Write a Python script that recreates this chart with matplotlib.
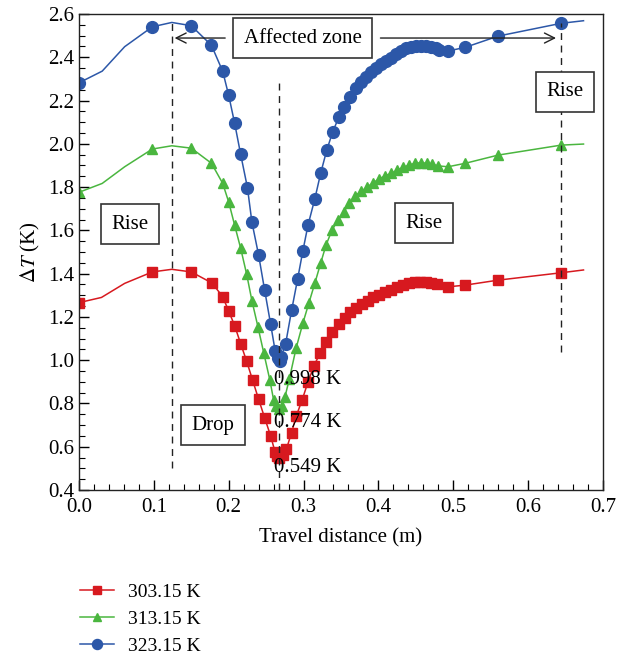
import matplotlib
matplotlib.use('Agg')
import matplotlib.pyplot as plt

plt.rcParams['font.family'] = ['Liberation Serif', 'DejaVu Serif']
plt.rcParams['mathtext.fontset'] = 'stix'

# Data (travel distance in m, delta T in K)
# points at index 1, 2, 4 and the last one carry no marker (curve only)
x_303 = [0.0, 0.030, 0.061, 0.098, 0.124, 0.150, 0.178, 0.192, 0.200, 0.208,
         0.216, 0.224, 0.232, 0.240, 0.248, 0.256, 0.262, 0.264, 0.267, 0.272,
         0.277, 0.284, 0.290, 0.298, 0.306, 0.314, 0.322, 0.330, 0.338, 0.347,
         0.355, 0.362, 0.370, 0.378, 0.386, 0.393, 0.401, 0.409, 0.417, 0.425,
         0.433, 0.441, 0.449, 0.456, 0.463, 0.470, 0.478, 0.493, 0.516, 0.560,
         0.644, 0.674]
y_303 = [1.266, 1.290, 1.355, 1.408, 1.420, 1.408, 1.356, 1.293, 1.227, 1.159,
         1.076, 0.995, 0.907, 0.819, 0.734, 0.650, 0.575, 0.556, 0.549, 0.562,
         0.588, 0.665, 0.740, 0.815, 0.900, 0.975, 1.032, 1.085, 1.132, 1.166,
         1.196, 1.221, 1.240, 1.258, 1.275, 1.290, 1.301, 1.314, 1.324, 1.337,
         1.347, 1.355, 1.361, 1.363, 1.363, 1.358, 1.351, 1.339, 1.347, 1.370,
         1.404, 1.417]

x_313 = [0.0, 0.031, 0.061, 0.098, 0.124, 0.150, 0.177, 0.192, 0.200, 0.208,
         0.216, 0.224, 0.231, 0.239, 0.247, 0.255, 0.260, 0.263, 0.267, 0.271,
         0.275, 0.281, 0.290, 0.299, 0.307, 0.315, 0.323, 0.330, 0.338, 0.346,
         0.354, 0.361, 0.369, 0.377, 0.385, 0.393, 0.401, 0.409, 0.417, 0.425,
         0.433, 0.441, 0.449, 0.457, 0.465, 0.472, 0.480, 0.493, 0.516, 0.560,
         0.644, 0.674]
y_313 = [1.776, 1.817, 1.894, 1.976, 1.991, 1.980, 1.910, 1.817, 1.731, 1.623,
         1.517, 1.397, 1.275, 1.155, 1.031, 0.908, 0.816, 0.788, 0.774, 0.790,
         0.828, 0.913, 1.055, 1.170, 1.263, 1.355, 1.450, 1.532, 1.601, 1.648,
         1.686, 1.725, 1.760, 1.780, 1.800, 1.820, 1.838, 1.852, 1.863, 1.878,
         1.891, 1.902, 1.910, 1.913, 1.910, 1.905, 1.898, 1.894, 1.910, 1.948,
         1.994, 1.999]

x_323 = [0.0, 0.031, 0.061, 0.098, 0.124, 0.150, 0.177, 0.192, 0.200, 0.208,
         0.216, 0.225, 0.231, 0.240, 0.248, 0.256, 0.262, 0.266, 0.268, 0.270,
         0.276, 0.284, 0.292, 0.299, 0.306, 0.315, 0.323, 0.331, 0.339, 0.347,
         0.354, 0.362, 0.370, 0.377, 0.384, 0.390, 0.397, 0.404, 0.410, 0.417,
         0.424, 0.430, 0.437, 0.444, 0.450, 0.457, 0.464, 0.470, 0.477, 0.481,
         0.493, 0.516, 0.560, 0.644, 0.674]
y_323 = [2.282, 2.336, 2.449, 2.541, 2.561, 2.546, 2.455, 2.335, 2.224, 2.094,
         1.951, 1.798, 1.638, 1.485, 1.324, 1.167, 1.044, 1.009, 0.998, 1.016,
         1.075, 1.230, 1.374, 1.504, 1.625, 1.745, 1.866, 1.971, 2.056, 2.122,
         2.171, 2.215, 2.256, 2.287, 2.310, 2.333, 2.349, 2.367, 2.382, 2.399,
         2.415, 2.430, 2.441, 2.449, 2.453, 2.453, 2.452, 2.449, 2.441, 2.433,
         2.429, 2.446, 2.498, 2.557, 2.569]

labels = ['303.15 K', '313.15 K', '323.15 K']
colors = ['#d7191f', '#4ab63f', '#2c57a8']
markers = ['s', '^', 'o']
msizes = [6.5, 6.5, 8.5]

minima_text = ['0.549 K', '0.774 K', '0.998 K']
minima_y = [0.506, 0.714, 0.913]

fig = plt.figure(figsize=(6.24, 6.55), dpi=100)
ax = fig.add_axes([0.1266, 0.2519, 0.8397, 0.7267])

series = [(x_303, y_303), (x_313, y_313), (x_323, y_323)]
for (xs, ys), lab, c, m, ms in zip(series, labels, colors, markers, msizes):
    mark_idx = [i for i in range(len(xs)) if i not in (1, 2, 4, len(xs) - 1)]
    ax.plot(xs, ys, color=c, lw=1.1, marker=m, ms=ms, markevery=mark_idx,
            mec=c, mfc=c, label=lab)

# dashed guide lines
ax.plot([0.124, 0.124], [0.50, 2.57], ls=(0, (5, 4)), color='#222222', lw=1.0)
ax.plot([0.267, 0.267], [0.40, 2.285], ls=(0, (5, 4)), color='#222222', lw=1.0)
ax.plot([0.644, 0.644], [1.04, 2.56], ls=(0, (5, 4)), color='#222222', lw=1.0)

box = dict(boxstyle='square,pad=0.5', fc='white', ec='#333333', lw=1.2)
fs = 15

# affected zone with arrows
ax.annotate('', xy=(0.124, 2.489), xytext=(0.199, 2.489),
            arrowprops=dict(arrowstyle='->', color='#222222', lw=1.0, mutation_scale=18))
ax.annotate('', xy=(0.641, 2.489), xytext=(0.399, 2.489),
            arrowprops=dict(arrowstyle='->', color='#222222', lw=1.0, mutation_scale=18))
ax.text(0.299, 2.489, 'Affected zone', fontsize=fs, ha='center', va='center', bbox=box)

ax.text(0.068, 1.629, 'Rise', fontsize=fs, ha='center', va='center', bbox=box)
ax.text(0.461, 1.634, 'Rise', fontsize=fs, ha='center', va='center', bbox=box)
ax.text(0.649, 2.24, 'Rise', fontsize=fs, ha='center', va='center', bbox=box)
ax.text(0.179, 0.70, 'Drop', fontsize=fs, ha='center', va='center', bbox=box)

for t, my in zip(minima_text, minima_y):
    ax.text(0.261, my, t, fontsize=fs, ha='left', va='center')

ax.set_xlim(0, 0.7)
ax.set_ylim(0.4, 2.6)
ax.set_xticks([0.0, 0.1, 0.2, 0.3, 0.4, 0.5, 0.6, 0.7])
ax.set_xticks([i * 0.02 for i in range(36)], minor=True)
ax.set_yticks([0.4, 0.6, 0.8, 1.0, 1.2, 1.4, 1.6, 1.8, 2.0, 2.2, 2.4, 2.6])
ax.set_yticks([0.4 + i * 0.05 for i in range(45)], minor=True)
ax.xaxis.set_major_formatter(plt.FormatStrFormatter('%.1f'))
ax.yaxis.set_major_formatter(plt.FormatStrFormatter('%.1f'))
ax.tick_params(which='both', direction='in', top=False, right=False, labelsize=fs)
ax.tick_params(which='major', length=7, width=1)
ax.tick_params(axis='x', which='major', pad=6)
ax.tick_params(which='minor', length=4, width=0.8)
for s in ax.spines.values():
    s.set_color('#222222')
    s.set_linewidth(1.0)

ax.set_xlabel('Travel distance (m)', fontsize=fs, labelpad=8)
ax.set_ylabel(r'$\Delta T$ (K)', fontsize=fs, labelpad=4)

fig.legend(loc='upper left', bbox_to_anchor=(0.104, 0.133), frameon=False,
           fontsize=14, handlelength=1.7, handletextpad=0.75, labelspacing=0.48,
           borderpad=0.3, markerscale=0.85)

fig.savefig('out.png', dpi=100)
